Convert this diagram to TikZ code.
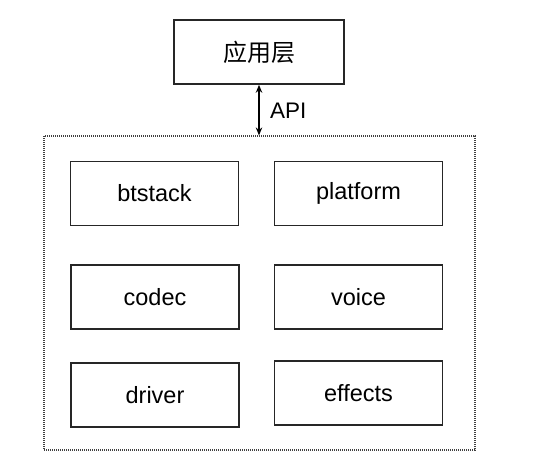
\documentclass[tikz,border=0pt]{standalone}
\usepackage{fontspec}
\setmainfont{Liberation Sans}
\newfontfamily\cjk{Noto Sans CJK SC}
\usetikzlibrary{arrows.meta}
\begin{document}
\begin{tikzpicture}[x=1pt,y=-1pt,
  modbox/.style={draw=black!85, line width=1.4pt, minimum width=168pt, minimum height=64pt, inner sep=0pt, font=\fontsize{23.5}{28}\selectfont},
  topbox/.style={draw=black!85, line width=1.6pt, minimum width=170pt, minimum height=64pt, inner sep=0pt, font=\cjk\fontsize{24}{28}\selectfont},
  framebox/.style={draw=black!75, line width=1.2pt, dash pattern=on 1pt off 1pt, minimum width=431pt, minimum height=314pt, inner sep=0pt},
  apiarrow/.style={{Stealth[length=8pt,width=6.5pt]}-{Stealth[length=8pt,width=6.5pt]}, line width=1.3pt, black},
  lbl/.style={font=\fontsize{22.5}{26}\selectfont, inner sep=0pt, anchor=west}]
\useasboundingbox (0,0) rectangle (560,470);
\node[topbox] (app) at (259,52) {应用层};
\node[framebox] (frame) at (259.5,293) {};
\node[modbox] (btstack) at (154.5,193.5) {btstack};
\node[modbox] (platform) at (358.5,193.5) {platform};
\node[modbox] (codec) at (155,297) {codec};
\node[modbox] (voice) at (358.5,297) {voice};
\node[modbox] (driver) at (155,395) {driver};
\node[modbox] (effects) at (358.5,393) {effects};
\draw[apiarrow] (app.south) -- (app.south |- frame.north);
\node[lbl] (api) at (270,111) {API};
\end{tikzpicture}
\end{document}
